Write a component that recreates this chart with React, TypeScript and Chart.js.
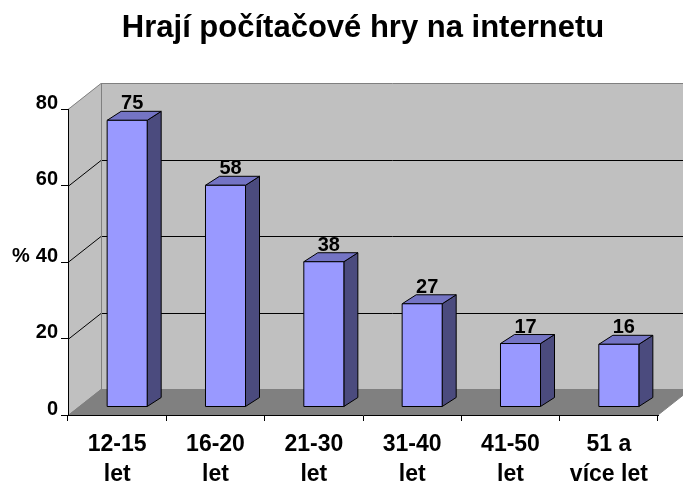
import React, { useEffect, useRef } from "react";
import { Chart, registerables } from "chart.js";

Chart.register(...registerables);

const TITLE = "Hrají počítačové hry na internetu";
const CATEGORIES = [
  ["12-15", "let"],
  ["16-20", "let"],
  ["21-30", "let"],
  ["31-40", "let"],
  ["41-50", "let"],
  ["51 a", "více let"],
];
const VALUES = [75, 58, 38, 27, 16.6, 16.4];
const Y_TICKS = [0, 20, 40, 60, 80];
const Y_UNIT = "%";

const FONT = "'Liberation Sans', Arial, sans-serif";

// 3D geometry (pixels)
const DX = 33;
const DY = -26;
const BAR_OX = 10;
const BAR_OY = -8;
const BAR_DX = 14;
const BAR_DY = -9;

const C_WALL = "#c0c0c0";
const C_FLOOR = "#808080";
const C_FRONT = "#9999ff";
const C_TOP = "#7474c4";
const C_SIDE = "#4b4b7e";

function poly(ctx: CanvasRenderingContext2D, pts: number[][], fill?: string, stroke?: string) {
  ctx.beginPath();
  ctx.moveTo(pts[0][0], pts[0][1]);
  for (let i = 1; i < pts.length; i++) ctx.lineTo(pts[i][0], pts[i][1]);
  ctx.closePath();
  if (fill) {
    ctx.fillStyle = fill;
    ctx.fill();
  }
  if (stroke) {
    ctx.strokeStyle = stroke;
    ctx.lineWidth = 1;
    ctx.stroke();
  }
}

const wallsPlugin = {
  id: "walls3d",
  beforeDraw(chart: any) {
    const { ctx } = chart;
    const { left, right, top, bottom } = chart.chartArea;
    const ys = chart.scales.y;
    ctx.save();
    poly(ctx, [[left + DX, top + DY], [right + DX, top + DY], [right + DX, bottom + DY], [left + DX, bottom + DY]], C_WALL);
    poly(ctx, [[left, top], [left + DX, top + DY], [left + DX, bottom + DY], [left, bottom]], C_WALL);
    poly(ctx, [[left, bottom], [left + DX, bottom + DY], [right + DX, bottom + DY], [right, bottom]], C_FLOOR);
    ctx.lineWidth = 1;
    for (const v of Y_TICKS) {
      const py = Math.round(ys.getPixelForValue(v)) + 0.5;
      const edge = v === Y_TICKS[0] || v === Y_TICKS[Y_TICKS.length - 1];
      ctx.strokeStyle = edge ? "#808080" : "#000000";
      ctx.beginPath();
      ctx.moveTo(left, py);
      ctx.lineTo(left + DX, py + DY);
      ctx.lineTo(right + DX + 20, py + DY);
      ctx.stroke();
    }
    ctx.strokeStyle = "#808080";
    ctx.beginPath();
    ctx.moveTo(left + DX + 0.5, top + DY);
    ctx.lineTo(left + DX + 0.5, bottom + DY);
    ctx.moveTo(right, bottom);
    ctx.lineTo(right + DX, bottom + DY);
    ctx.stroke();
    ctx.restore();
  },
};

const barsPlugin = {
  id: "bars3d",
  afterDatasetsDraw(chart: any) {
    const { ctx } = chart;
    const meta = chart.getDatasetMeta(0);
    ctx.save();
    ctx.lineJoin = "round";
    meta.data.forEach((el: any, i: number) => {
      const { x, y, base, width } = el.getProps(["x", "y", "base", "width"], true);
      const l0 = x - width / 2 + BAR_OX;
      const r0 = x + width / 2 + BAR_OX;
      const t0 = y + BAR_OY;
      const b0 = base + BAR_OY;
      const l1 = l0 + BAR_DX;
      const r1 = r0 + BAR_DX;
      const t1 = t0 + BAR_DY;
      const b1 = b0 + BAR_DY;
      poly(ctx, [[r0, t0], [r1, t1], [r1, b1], [r0, b0]], C_SIDE, "#000");
      poly(ctx, [[l0, t0], [l1, t1], [r1, t1], [r0, t0]], C_TOP, "#000");
      poly(ctx, [[l0, t0], [r0, t0], [r0, b0], [l0, b0]], C_FRONT, "#000");
      ctx.fillStyle = "#000";
      ctx.font = `bold 20px ${FONT}`;
      ctx.textAlign = "center";
      ctx.textBaseline = "alphabetic";
      ctx.fillText(String(Math.round(VALUES[i])), x + BAR_OX + 5, t1 - 2);
    });
    ctx.restore();
  },
  afterDraw(chart: any) {
    const { ctx } = chart;
    const ys = chart.scales.y;
    ctx.save();
    ctx.fillStyle = "#000";
    ctx.font = `bold 20px ${FONT}`;
    ctx.textAlign = "left";
    ctx.textBaseline = "middle";
    ctx.fillText(Y_UNIT, 12, ys.getPixelForValue(40) - 6);
    ctx.restore();
  },
};

export default function App() {
  const ref = useRef<HTMLCanvasElement>(null);
  useEffect(() => {
    const canvas = ref.current!;
    const chart = new Chart(canvas, {
      type: "bar",
      data: {
        labels: CATEGORIES,
        datasets: [
          {
            data: VALUES,
            backgroundColor: "rgba(0,0,0,0)",
            borderWidth: 0,
            categoryPercentage: 1,
            barPercentage: 0.407,
          },
        ],
      },
      options: {
        animation: false,
        responsive: false,
        devicePixelRatio: 1,
        layout: { padding: { left: 0, right: 25, top: 0, bottom: 0 } },
        plugins: {
          legend: { display: false },
          tooltip: { enabled: false },
          title: {
            display: true,
            text: TITLE,
            fullSize: false,
            color: "#000",
            font: { family: FONT, size: 31, weight: "bold", lineHeight: 1.2 },
            padding: { top: 10, bottom: 62 },
          },
        },
        scales: {
          x: {
            grid: { offset: true, drawOnChartArea: false, drawTicks: true, tickLength: 6, color: "#000" },
            border: { color: "#000", width: 1 },
            ticks: {
              color: "#000",
              font: { family: FONT, size: 23, weight: "bold", lineHeight: 1.3 },
              padding: 9,
              maxRotation: 0,
              minRotation: 0,
              autoSkip: false,
            },
            afterFit(s: any) {
              s.height = 66;
            },
          },
          y: {
            min: 0,
            max: 80,
            grid: { drawOnChartArea: false, drawTicks: true, tickLength: 7, color: "#000" },
            border: { color: "#000", width: 1 },
            ticks: {
              stepSize: 20,
              color: "#000",
              padding: 3,
              labelOffset: -6,
              font: { family: FONT, size: 20, weight: "bold" },
            },
            afterFit(s: any) {
              s.width = 68;
            },
          },
        },
      },
      plugins: [wallsPlugin, barsPlugin],
    });
    return () => chart.destroy();
  }, []);
  return (
    <div style={{ position: "fixed", left: 0, top: 0, width: 683, height: 481, background: "#fff" }}>
      <canvas ref={ref} width={683} height={481} />
    </div>
  );
}
